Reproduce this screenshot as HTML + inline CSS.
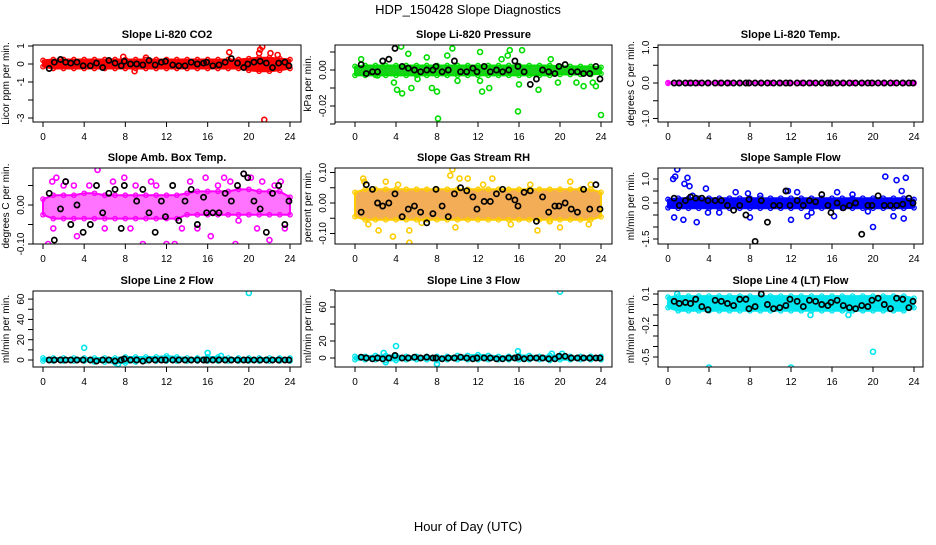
<!DOCTYPE html>
<html><head><meta charset="utf-8"><style>
body{margin:0;background:#fff}
svg text{font-family:"Liberation Sans",sans-serif}
</style></head><body>
<svg id="c" width="936" height="540" viewBox="0 0 936 540" xmlns="http://www.w3.org/2000/svg">
<text x="468" y="14" text-anchor="middle" font-size="13">HDP_150428  Slope Diagnostics</text>
<text x="468" y="531" text-anchor="middle" font-size="13">Hour of Day (UTC)</text>
</svg>
<script>
const xTicks=[0,4,8,12,16,20,24];
const cloudHours=[0,1,2,3,4,5,6,7,8,9,10,11,12,13,14,15,16,17,18,19,20,21,22,23,24];
const blackHours=[0.6,1.1,1.7,2.2,2.7,3.3,3.9,4.6,5.2,5.8,6.4,7.0,7.6,7.9,8.5,9.1,9.7,10.3,10.9,11.5,11.9,12.6,13.2,13.8,14.4,15.0,15.6,15.9,16.5,17.1,17.7,18.3,18.9,19.5,19.9,20.5,21.1,21.7,22.3,22.9,23.5,23.9];

const co2Hi=[0.2,0.25,0.25,0.25,0.25,0.25,0.25,0.25,0.25,0.25,0.25,0.25,0.25,0.25,0.25,0.25,0.25,0.25,0.25,0.25,0.3,0.35,0.35,0.3,0.25];
const co2Lo=[-0.15,-0.25,-0.25,-0.25,-0.25,-0.25,-0.25,-0.25,-0.25,-0.25,-0.25,-0.25,-0.25,-0.25,-0.25,-0.25,-0.25,-0.25,-0.25,-0.25,-0.35,-0.4,-0.4,-0.35,-0.25];
const co2Out=[[18.1,0.65],[21,0.6],[21.1,0.8],[21.3,0.95],[22.1,0.6],[22.8,0.5],[21.5,-3.1],[8.9,-0.4],[10,0.35],[7.8,0.4]];
const co2Black=[-0.25,0.1,0.25,0.1,0.05,0.1,-0.1,-0.1,0.05,-0.2,0.2,0.05,-0.1,0.15,0,0,-0.05,0.2,-0.05,0.1,0.15,-0.05,-0.1,-0.1,0.1,0,0.05,0.1,-0.1,-0.05,0.1,0.3,0.05,-0.2,0,0.1,0.15,0.05,-0.2,0.05,0.1,-0.1];

const presHi=[0.002,0.0025,0.0025,0.0025,0.0025,0.0025,0.0025,0.0025,0.0025,0.0025,0.0025,0.0025,0.0025,0.0025,0.0025,0.0025,0.0025,0.0025,0.0025,0.0025,0.002,0.002,0.002,0.002,0.0015];
const presLo=[-0.003,-0.003,-0.003,-0.003,-0.003,-0.003,-0.003,-0.003,-0.003,-0.003,-0.003,-0.003,-0.003,-0.003,-0.003,-0.003,-0.003,-0.003,-0.003,-0.003,-0.0025,-0.0025,-0.0025,-0.0025,-0.002];
const presOut=[[0.6,0.006],[4.5,0.013],[5.2,0.009],[7.0,0.007],[8.1,-0.027],[8.0,-0.012],[4.1,-0.011],[4.6,-0.013],[5.5,-0.01],[7.5,-0.01],[9.5,0.012],[9.0,0.008],[10,-0.006],[12.2,0.01],[12.4,-0.012],[13.1,-0.01],[12.2,-0.006],[14.3,0.006],[15.1,0.011],[14.9,0.008],[15.9,-0.023],[16.3,0.011],[16.0,-0.008],[17.9,-0.011],[19.1,0.006],[19.8,-0.007],[21.6,-0.007],[22.3,-0.009],[23.2,-0.007],[23.5,-0.009],[24,-0.025],[3.8,-0.007],[6.1,-0.005],[2.2,-0.003]];
const presBlack=[0.003,-0.002,-0.001,-0.001,0.005,0.006,0.012,0.002,0.001,0,-0.001,0,0,0.002,-0.001,0,0.005,-0.001,-0.001,0.001,-0.001,0.002,-0.001,0,-0.001,0,0.005,0.002,-0.001,-0.008,-0.005,0,-0.001,-0.002,0.002,0.003,-0.001,-0.001,-0.002,-0.002,0.002,-0.005];

const tempHi=[0.01,0.01,0.01,0.01,0.01,0.01,0.01,0.01,0.01,0.01,0.01,0.01,0.01,0.01,0.01,0.01,0.01,0.01,0.01,0.01,0.01,0.01,0.01,0.01,0.01];
const tempLo=[-0.01,-0.01,-0.01,-0.01,-0.01,-0.01,-0.01,-0.01,-0.01,-0.01,-0.01,-0.01,-0.01,-0.01,-0.01,-0.01,-0.01,-0.01,-0.01,-0.01,-0.01,-0.01,-0.01,-0.01,-0.01];
const tempOut=[];
const tempBlack=[0,0,0,0,0,0,0,0,0,0,0,0,0,0,0,0,0,0,0,0,0,0,0,0,0,0,0,0,0,0,0,0,0,0,0,0,0,0,0,0,0,0];

const ambHi=[0.015,0.025,0.025,0.025,0.03,0.03,0.025,0.025,0.025,0.025,0.025,0.025,0.025,0.025,0.03,0.035,0.035,0.035,0.035,0.04,0.04,0.035,0.035,0.035,0.02];
const ambLo=[-0.025,-0.035,-0.035,-0.035,-0.035,-0.035,-0.035,-0.035,-0.035,-0.035,-0.035,-0.035,-0.035,-0.035,-0.025,-0.025,-0.025,-0.025,-0.025,-0.025,-0.025,-0.025,-0.025,-0.025,-0.025];
const ambOut=[[1.3,0.07],[0.9,0.06],[2.2,0.06],[2.4,-0.12],[5.3,0.09],[5.4,-0.12],[6.8,0.06],[7.9,0.07],[8.2,-0.11],[10.5,0.06],[11.3,-0.11],[12.8,-0.1],[14.0,-0.12],[14.3,0.06],[15.8,0.07],[17.2,-0.14],[17.6,0.07],[18.7,-0.1],[19.5,0.08],[20.2,0.07],[21.0,-0.18],[21.3,0.06],[23.1,0.06],[22.0,-0.09],[0.5,-0.1],[3.3,-0.08],[7.0,-0.11],[9.7,-0.1],[12.0,-0.1],[16.3,-0.08],[19.0,-0.04],[2.0,0.05],[4.5,0.05],[6.0,-0.06],[9.0,0.05],[11.0,0.05],[13.5,-0.06],[18.2,0.06],[22.5,0.05],[1.0,-0.06],[3.0,0.05],[8.5,-0.06],[15.0,-0.06],[20.8,-0.06],[23.5,-0.06],[17.0,0.05]];
const ambBlack=[0.03,-0.09,-0.01,0.06,-0.05,0,-0.07,-0.05,0.05,-0.02,0.03,0.04,-0.06,0.05,-0.13,0.01,0.04,-0.02,-0.07,0.01,-0.03,0.05,-0.04,0.01,0.04,-0.05,0.02,-0.02,-0.02,-0.02,0.03,0.01,0.05,0.08,0.07,0.01,-0.01,-0.07,0.03,0.05,-0.05,0.01];

const rhHi=[0.035,0.045,0.045,0.045,0.045,0.045,0.045,0.045,0.045,0.045,0.045,0.045,0.045,0.045,0.045,0.045,0.045,0.045,0.045,0.045,0.045,0.045,0.045,0.045,0.035];
const rhLo=[-0.045,-0.055,-0.055,-0.055,-0.055,-0.055,-0.055,-0.055,-0.055,-0.055,-0.055,-0.055,-0.055,-0.055,-0.055,-0.055,-0.055,-0.055,-0.055,-0.055,-0.055,-0.055,-0.055,-0.055,-0.045];
const rhOut=[[0.8,0.08],[2.3,-0.09],[3.7,-0.11],[5.3,-0.09],[5.3,-0.13],[9.3,0.09],[9.5,0.11],[9.8,-0.08],[10.2,0.08],[11.0,0.08],[13.4,0.08],[17.1,0.06],[17.8,-0.09],[20.0,-0.08],[21.0,0.07],[22.8,-0.07],[0.9,0.07],[3.0,0.07],[1.3,-0.07],[15.2,-0.07],[4.2,0.06],[6.5,-0.065],[12.5,0.06],[19.0,-0.06],[23.0,0.06]];
const rhBlack=[-0.03,0.06,0.045,0,-0.01,0,0.03,-0.045,-0.02,-0.01,-0.03,-0.065,-0.035,0.045,-0.01,-0.045,0.03,0.05,0.04,0.02,-0.02,0.005,0.005,0.03,0.045,0.02,0.01,-0.01,0.035,0.04,-0.06,0.02,-0.03,-0.01,-0.01,0,-0.02,-0.03,0.045,-0.02,0.06,-0.02];

const sfHi=[0.15,0.2,0.2,0.2,0.2,0.2,0.2,0.2,0.2,0.2,0.2,0.2,0.2,0.2,0.2,0.2,0.2,0.2,0.2,0.2,0.2,0.2,0.2,0.2,0.15];
const sfLo=[-0.2,-0.22,-0.22,-0.22,-0.22,-0.22,-0.22,-0.22,-0.22,-0.22,-0.22,-0.22,-0.22,-0.22,-0.22,-0.22,-0.22,-0.22,-0.22,-0.22,-0.22,-0.22,-0.22,-0.22,-0.2];
const sfOut=[[0.5,1.0],[0.7,1.1],[0.9,1.4],[1.9,1.05],[1.6,0.8],[2.1,0.7],[0.6,-0.6],[1.5,-0.7],[2.8,-0.8],[3.7,0.6],[3.9,-0.4],[6.6,0.45],[7.8,0.4],[8.0,-0.6],[11.7,0.5],[12.0,-0.7],[12.6,0.45],[13.6,-0.55],[16.2,-0.55],[16.5,0.45],[20.0,-1.0],[21.2,1.1],[22.3,0.95],[23.2,1.05],[22.8,0.5],[22.0,-0.55],[23.0,-0.65],[2.4,0.3],[5.0,-0.4],[9.0,0.3],[14.0,-0.4],[18.0,0.35],[19.5,-0.35]];
const sfBlack=[0.2,-0.1,0.1,0.25,0.2,0.2,0.1,0.1,0.1,-0.1,-0.3,-0.1,-0.5,0.15,-1.6,0.1,-0.8,-0.1,-0.1,0.5,-0.1,0.1,-0.1,0.1,0.05,0.35,-0.1,-0.4,0,-0.2,-0.1,0,-1.3,-0.1,-0.1,0.3,-0.1,-0.1,-0.1,-0.05,0.2,0];

const l2Hi=[2,2,2,2,2,2,2,2,3,3,3,3,4,3,2,2,3,3,2,2,2,2,2,2,2];
const l2Lo=[-1,-1,-1,-1,-1,-2,-2,-3,-3,-2,-1,-1,-1,-1,-1,-1,-1,-1,-1,-1,-1,-1,-1,-1,-1];
const l2Out=[[4,12],[16,7],[20,66],[7.3,-4],[17.3,4]];
const l2Black=[0,0,0,0,0,0,0,0,-1,0,0,-1,0,1,0,0,-1,0,0,0,0,0,0,0,0,0,0,0,0,0,0,0,0,0,0,0,0,0,0,0,0,0];

const l3Hi=[2,2,3,3,3,2,2,2,2,2,3,3,4,3,2,2,3,3,2,3,3,2,2,2,2];
const l3Lo=[-2,-2,-2,-3,-3,-2,-2,-2,-3,-2,-2,-2,-2,-2,-2,-2,-2,-2,-2,-3,-2,-2,-2,-2,-2];
const l3Out=[[4,14],[15.9,8],[20,78],[8,-7],[3,-5],[2.8,6],[19.2,5],[20.2,5]];
const l3Black=[1,0,-1,0,-1,0,3,0,0,1,0,1,0,0,-1,0,0,1,0,-1,0,0,0,-1,-1,0,0,1,-1,0,0,0,-1,-1,2,2,0,0,0,0,0,0];

const l4Hi=[0.07,0.08,0.08,0.08,0.08,0.08,0.08,0.08,0.08,0.08,0.08,0.08,0.08,0.08,0.08,0.08,0.08,0.08,0.08,0.08,0.08,0.08,0.08,0.08,0.06];
const l4Lo=[-0.03,-0.06,-0.06,-0.06,-0.06,-0.06,-0.06,-0.06,-0.06,-0.06,-0.06,-0.06,-0.06,-0.06,-0.06,-0.06,-0.06,-0.06,-0.06,-0.06,-0.06,-0.06,-0.06,-0.06,-0.03];
const l4Out=[[4,-0.6],[12,-0.6],[20,-0.45],[0.9,0.1],[13.9,-0.1],[17.6,-0.1]];
const l4Black=[0.03,0.01,0.02,0.01,0.05,-0.02,-0.05,0.04,0.03,0.01,-0.01,0.05,0.05,-0.04,-0.02,0.1,0,-0.04,-0.03,-0.01,0.05,0.03,-0.02,0.04,0.03,0,-0.01,0.02,0.04,-0.01,-0.03,-0.04,-0.01,-0.02,0.04,0.06,0,-0.04,0.06,0.05,-0.03,0.03];

const cols=[[33,301,43,290],[335,612,355,601],[658,923,668,914]];
const rows=[[45,122],[168,244],[291,367]];
const panels=[
 {n:'co2',t:'Slope Li-820 CO2',yl:'Licor ppm per min.',c:'#ff0000',f:'#ff0000',fo:1,col:0,row:0,z:64,k:18,hi:co2Hi,lo:co2Lo,out:co2Out,bk:co2Black,tk:[[1,'1'],[0,'0'],[-1,'-1'],[-2,''],[-3,'-3']]},
 {n:'pressure',t:'Slope Li-820 Pressure',yl:'kPa per min.',c:'#00dd00',f:'#00cc00',fo:0.9,col:1,row:0,z:70,k:1800,hi:presHi,lo:presLo,out:presOut,bk:presBlack,tk:[[0.01,''],[0,'0.00'],[-0.01,''],[-0.02,'-0.02'],[-0.03,'']]},
 {n:'temp',t:'Slope Li-820 Temp.',yl:'degrees C per min.',c:'#ff00ff',f:'#ff00ff',fo:1,col:2,row:0,z:83,k:35.5,hi:tempHi,lo:tempLo,out:tempOut,bk:tempBlack,tk:[[1,'1.0'],[0.5,''],[0,'0.0'],[-0.5,''],[-1,'-1.0']]},
 {n:'amb-box-temp',t:'Slope Amb. Box Temp.',yl:'degrees C per min.',c:'#ff00ff',f:'#ff00ff',fo:0.55,col:0,row:1,z:205,k:390,hi:ambHi,lo:ambLo,out:ambOut,bk:ambBlack,tk:[[0.05,''],[0,'0.00'],[-0.05,''],[-0.1,'-0.10']]},
 {n:'gas-stream-rh',t:'Slope Gas Stream RH',yl:'percent per min.',c:'#ffcc00',f:'#f08a10',fo:0.7,col:1,row:1,z:203,k:305,hi:rhHi,lo:rhLo,out:rhOut,bk:rhBlack,tk:[[0.1,'0.10'],[0.05,''],[0,'0.00'],[-0.05,''],[-0.1,'-0.10']]},
 {n:'sample-flow',t:'Slope Sample Flow',yl:'ml/min per min.',c:'#0000ff',f:'#0000ff',fo:1,col:2,row:1,z:203,k:24,hi:sfHi,lo:sfLo,out:sfOut,bk:sfBlack,tk:[[1,'1.0'],[0.5,''],[0,'0.0'],[-0.5,''],[-1,''],[-1.5,'-1.5']]},
 {n:'line2-flow',t:'Slope Line 2 Flow',yl:'ml/min per min.',c:'#00e5ee',f:'#00e5ee',fo:1,col:0,row:2,z:360,k:1.015,hi:l2Hi,lo:l2Lo,out:l2Out,bk:l2Black,tk:[[60,'60'],[50,''],[40,'40'],[30,''],[20,'20'],[10,''],[0,'0']]},
 {n:'line3-flow',t:'Slope Line 3 Flow',yl:'ml/min per min.',c:'#00e5ee',f:'#00e5ee',fo:1,col:1,row:2,z:358,k:0.85,hi:l3Hi,lo:l3Lo,out:l3Out,bk:l3Black,tk:[[80,''],[60,'60'],[40,''],[20,'20'],[0,'0']]},
 {n:'line4-flow',t:'Slope Line 4 (LT) Flow',yl:'ml/min per min.',c:'#00e5ee',f:'#00e5ee',fo:1,col:2,row:2,z:304.5,k:105,hi:l4Hi,lo:l4Lo,out:l4Out,bk:l4Black,tk:[[0.1,'0.1'],[0,''],[-0.1,''],[-0.2,'-0.2'],[-0.3,''],[-0.4,''],[-0.5,'-0.5']]}
];
const NS='http://www.w3.org/2000/svg';
const svg=document.getElementById('c');
function mk(tag,at,par){const e=document.createElementNS(NS,tag);for(const k in at)e.setAttribute(k,at[k]);(par||svg).appendChild(e);return e;}
panels.forEach(p=>{
 const [bl,br,x0,x24]=cols[p.col];const [bt,bb]=rows[p.row];
 const X=h=>x0+h*(x24-x0)/24;const Y=v=>p.z-v*p.k;
 const g=mk('g',{});
 
 
 const cl=mk('clipPath',{id:'cp'+p.n},g);mk('rect',{x:bl,y:bt,width:br-bl,height:bb-bt},cl);
 const t=mk('text',{x:(bl+br)/2,y:bt-7,'text-anchor':'middle','font-size':'11','font-weight':'bold'},g);t.textContent=p.t;
 
 
 const yx=bl-24;const yl=mk('text',{x:yx,y:(bt+bb)/2,'text-anchor':'middle','font-size':'10',transform:`rotate(-90 ${yx} ${(bt+bb)/2})`},g);yl.textContent=p.yl;
 
 
 const pg=mk('g',{'clip-path':`url(#cp${p.n})`},g);
 let pts=cloudHours.map((h,i)=>X(h)+','+Y(p.hi[i])).concat(cloudHours.slice().reverse().map((h,j)=>{const i=cloudHours.length-1-j;return X(h)+','+Y(p.lo[i]);}));
 const band=mk('polygon',{points:pts.join(' '),fill:p.f,'fill-opacity':p.fo,stroke:p.c,'stroke-width':2,'stroke-linejoin':'round'},pg);
 
 
 cloudHours.forEach((h,i)=>{[p.hi[i],p.lo[i]].forEach(v=>{const c=mk('circle',{cx:X(h),cy:Y(v),r:2.2,fill:'none',stroke:p.c,'stroke-width':1.3},pg);
  
  });});
 p.out.forEach(o=>{const c=mk('circle',{cx:X(o[0]),cy:Y(o[1]),r:2.5,fill:'none',stroke:p.c,'stroke-width':1.6},pg);
  
  });
 blackHours.forEach((h,i)=>{const c=mk('circle',{cx:X(h),cy:Y(p.bk[i]),r:2.6,fill:'none',stroke:'#000','stroke-width':1.7},pg);
  
  });
 mk('rect',{x:bl,y:bt,width:br-bl,height:bb-bt,fill:'none',stroke:'#000','stroke-width':1},g);
 mk('line',{x1:X(0),x2:X(24),y1:bb,y2:bb,stroke:'#000'},g);
 xTicks.forEach(h=>{mk('line',{x1:X(h),x2:X(h),y1:bb,y2:bb+5,stroke:'#000'},g);
  const l=mk('text',{x:X(h),y:bb+18,'text-anchor':'middle','font-size':'10'},g);l.textContent=h;
  
  });
 const tv=p.tk.map(a=>a[0]);const ys=tv.map(Y);
 mk('line',{x1:bl,x2:bl,y1:Math.min(...ys),y2:Math.max(...ys),stroke:'#000'},g);
 p.tk.forEach(a=>{const y=Y(a[0]);mk('line',{x1:bl-5,x2:bl,y1:y,y2:y,stroke:'#000'},g);
  if(a[1]){const xx=bl-9;const l=mk('text',{x:xx,y:y,'text-anchor':'middle','font-size':'10',transform:`rotate(-90 ${xx} ${y})`},g);l.textContent=a[1];
  
  }});
});
</script>
</body></html>
